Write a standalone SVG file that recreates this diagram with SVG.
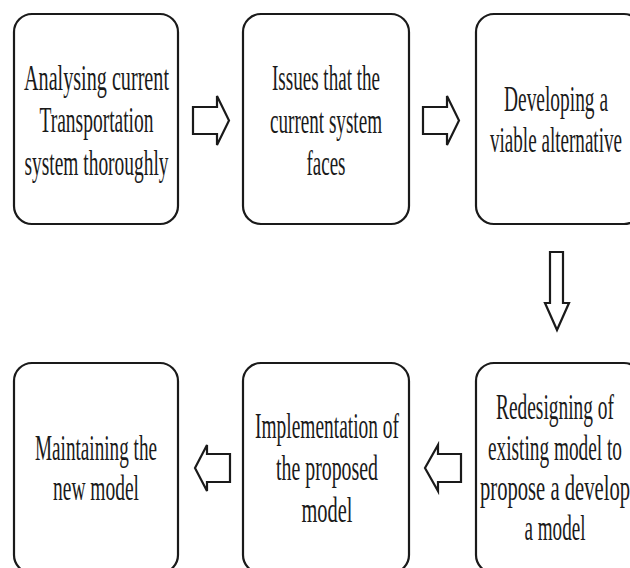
<svg xmlns="http://www.w3.org/2000/svg" width="630" height="568" viewBox="0 0 630 568">
<style>
.box{fill:#fff;stroke:#1a1a1a;stroke-width:2.2}
.lbl{font-family:"Liberation Serif","Times New Roman",serif;font-size:35px;fill:#1a1a1a;text-anchor:middle}
.arr{fill:#fff;stroke:#1a1a1a;stroke-width:2.2;stroke-linejoin:miter}
</style>
<rect x="0" y="0" width="630" height="568" fill="#fff"/>
<g id="node1">
<rect class="box" x="14" y="14" width="164" height="210" rx="18"/>
<text class="lbl" x="96.5" y="90" textLength="145" lengthAdjust="spacingAndGlyphs">Analysing current</text>
<text class="lbl" x="96.5" y="132" textLength="114" lengthAdjust="spacingAndGlyphs">Transportation</text>
<text class="lbl" x="96.5" y="175" textLength="144" lengthAdjust="spacingAndGlyphs">system thoroughly</text>
</g>
<g id="node2">
<rect class="box" x="243" y="14" width="166" height="210" rx="18"/>
<text class="lbl" x="326" y="90" textLength="108" lengthAdjust="spacingAndGlyphs">Issues that the</text>
<text class="lbl" x="326" y="133" textLength="112" lengthAdjust="spacingAndGlyphs">current system</text>
<text class="lbl" x="326" y="175" textLength="39" lengthAdjust="spacingAndGlyphs">faces</text>
</g>
<g id="node3">
<rect class="box" x="476" y="14" width="166" height="210" rx="18"/>
<text class="lbl" x="556" y="111" textLength="104" lengthAdjust="spacingAndGlyphs">Developing a</text>
<text class="lbl" x="556" y="152" textLength="132" lengthAdjust="spacingAndGlyphs">viable alternative</text>
</g>
<g id="node4">
<rect class="box" x="14" y="363" width="164" height="210" rx="18"/>
<text class="lbl" x="96" y="460" textLength="122" lengthAdjust="spacingAndGlyphs">Maintaining the</text>
<text class="lbl" x="96" y="500" textLength="86" lengthAdjust="spacingAndGlyphs">new model</text>
</g>
<g id="node5">
<rect class="box" x="243" y="363" width="166" height="210" rx="18"/>
<text class="lbl" x="327" y="438" textLength="144" lengthAdjust="spacingAndGlyphs">Implementation of</text>
<text class="lbl" x="327" y="480" textLength="102" lengthAdjust="spacingAndGlyphs">the proposed</text>
<text class="lbl" x="327" y="522" textLength="51" lengthAdjust="spacingAndGlyphs">model</text>
</g>
<g id="node6">
<rect class="box" x="476" y="363" width="166" height="210" rx="18"/>
<text class="lbl" x="555" y="419" textLength="118" lengthAdjust="spacingAndGlyphs">Redesigning of</text>
<text class="lbl" x="555" y="460" textLength="134" lengthAdjust="spacingAndGlyphs">existing model to</text>
<text class="lbl" x="555" y="500" textLength="150" lengthAdjust="spacingAndGlyphs">propose a develop</text>
<text class="lbl" x="555" y="540" textLength="61" lengthAdjust="spacingAndGlyphs">a model</text>
</g>
<g id="connectors">
<path class="arr" d="M193,107 H217 V96 L229,120.5 L217,145 V134 H193 Z"/>
<path class="arr" d="M423,107 H447 V96 L459,120.5 L447,145 V134 H423 Z"/>
<path class="arr" d="M550,252 H563 V303 H569 L557,330 L545,303 H550 Z"/>
<path class="arr" d="M461,454 H438 V445 L425,468 L438,491 V482 H461 Z"/>
<path class="arr" d="M230,454 H207 V445 L195,468 L207,491 V482 H230 Z"/>
</g>
</svg>
